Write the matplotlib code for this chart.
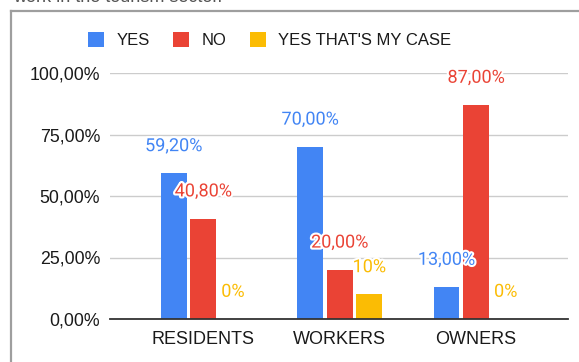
import matplotlib
matplotlib.use("Agg")
import matplotlib.pyplot as plt
import numpy as np
from matplotlib.patches import Patch
from matplotlib.lines import Line2D
import matplotlib.patheffects as pe

# Data
categories = ["RESIDENTS", "WORKERS", "OWNERS"]
series_names = ["YES", "NO", "YES THAT'S MY CASE"]
yes_vals = [59.20, 70.00, 13.00]
no_vals = [40.80, 20.00, 87.00]
case_vals = [0, 10, 0]
yes_labels = ["59,20%", "70,00%", "13,00%"]
no_labels = ["40,80%", "20,00%", "87,00%"]
case_labels = ["0%", "10%", "0%"]
y_ticks = [0, 25, 50, 75, 100]
y_tick_labels = ["0,00%", "25,00%", "50,00%", "75,00%", "100,00%"]

colors = ["#4285F4", "#EA4335", "#FBBC04"]

W, H = 579, 362
fig = plt.figure(figsize=(W / 100, H / 100), dpi=100)
fig.patch.set_facecolor("white")

ax = fig.add_axes([110 / W, 1 - 319 / H, (568 - 110) / W, (319 - 73) / H])
ax.set_facecolor("white")

x = np.arange(len(categories))
bar_w = 0.19
step = 0.217
series = [(yes_vals, yes_labels), (no_vals, no_labels), (case_vals, case_labels)]
for i, ((vals, labs), col) in enumerate(zip(series, colors)):
    xs = x + (i - 1) * step
    ax.bar(xs, vals, width=bar_w, color=col, zorder=3)
    for xi, v, lab in zip(xs, vals, labs):
        ax.annotate(lab, (xi, v), xytext=(0, 16), textcoords="offset points",
                    ha="center", va="baseline", color=col, fontsize=13,
                    family="Roboto", zorder=5,
                    path_effects=[pe.withStroke(linewidth=3, foreground="white")])

ax.set_xlim(-0.684, 2.674)
ax.set_ylim(0, 100)
ax.set_yticks(y_ticks)
ax.set_yticklabels(y_tick_labels, fontsize=12.8, family="Liberation Sans", color="#1a1a1a")
ax.set_xticks(x)
ax.set_xticklabels(categories, fontsize=13, family="Liberation Sans", color="#1a1a1a")
ax.tick_params(axis="y", length=0, pad=7)
ax.tick_params(axis="x", length=0, pad=8.5)
ax.grid(axis="y", color="#cccccc", linewidth=1, zorder=0)
ax.set_axisbelow(True)
for s in ["top", "right", "left"]:
    ax.spines[s].set_visible(False)
ax.spines["bottom"].set_color("#333333")
ax.spines["bottom"].set_linewidth(1.3)
ax.spines["bottom"].set_zorder(4)

# Legend
handles = [Patch(facecolor=c, edgecolor="none") for c in colors]
fig.legend(handles, series_names, loc="center", bbox_to_anchor=(0.4655, 1 - 40 / H),
           ncol=3, frameon=False, handlelength=1.0, handleheight=1.05,
           handletextpad=0.72, columnspacing=1.4,
           prop={"family": "Liberation Sans", "size": 12}, labelcolor="#1a1a1a")

# Outer frame and clipped heading above it
fig.add_artist(Line2D([10.5 / W, 1.01], [1 - 10.5 / H, 1 - 10.5 / H],
                      transform=fig.transFigure, color="#9e9e9e", linewidth=1.6))
fig.add_artist(Line2D([10.5 / W, 10.5 / W], [-0.01, 1 - 10.5 / H],
                      transform=fig.transFigure, color="#9e9e9e", linewidth=1.6))
fig.text(13 / W, 1 - 2 / H, "work in the tourism sector.", ha="left", va="baseline",
         fontsize=13, family="Liberation Sans", color="#555555")

fig.savefig("out.png", dpi=100, facecolor="white")
